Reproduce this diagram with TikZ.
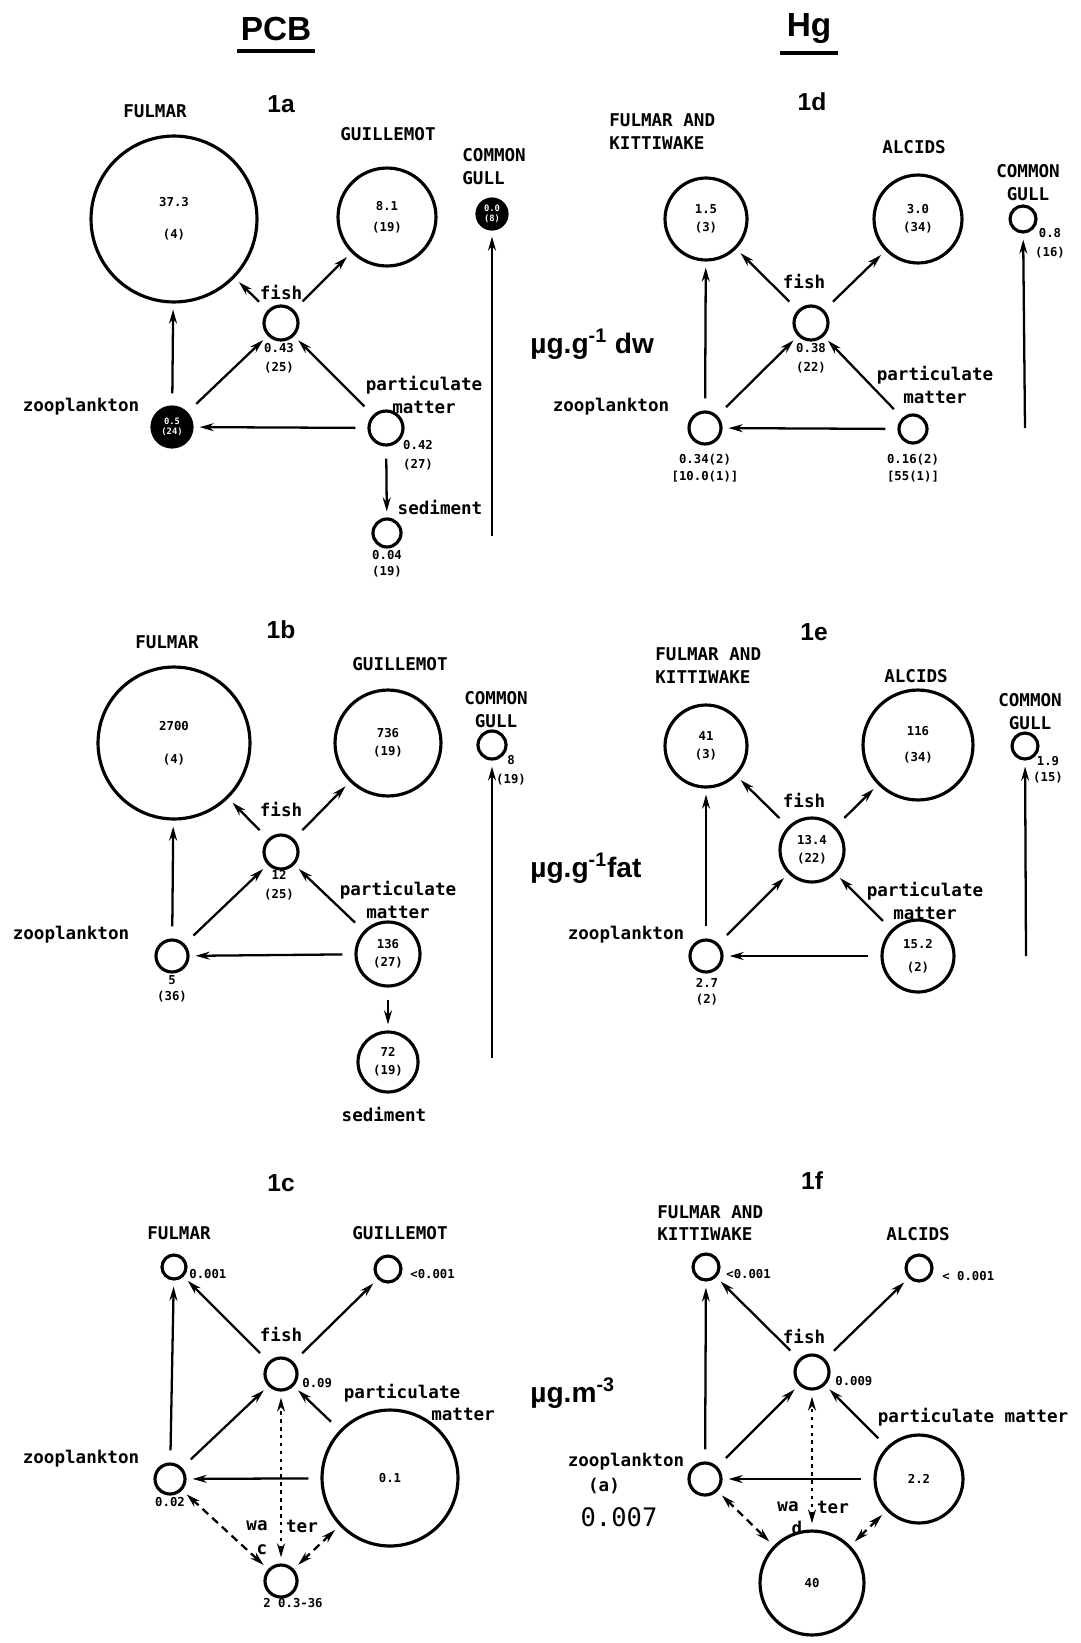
\documentclass[tikz,border=0pt]{standalone}
\usepackage{fontspec}
\setmainfont{Liberation Sans}
\setmonofont{DejaVu Sans Mono}
\usepackage{tikz}
\usetikzlibrary{
    arrows.meta,
    calc,
    positioning
}

\tikzset{
    pool/.style={circle, draw, line width=1.8pt, minimum size=#1*0.04cm, inner sep=0pt,
        align=center, font=\ttfamily\bfseries\fontsize{7}{10}\selectfont},
    darkpool/.style={pool=#1, fill=black, text=white, font=\ttfamily\bfseries\fontsize{5}{6}\selectfont},
    taxon/.style={inner sep=0pt, align=center, font=\ttfamily\bfseries\fontsize{10}{13}\selectfont},
    val/.style={inner sep=0pt, align=center, font=\ttfamily\bfseries\fontsize{7}{11}\selectfont},
    flow/.style={line width=1.3pt, -{Stealth[length=8pt, width=4.5pt]},
        shorten <=0.24cm, shorten >=0.12cm},
    swapdot/.style={line width=1.3pt, {Stealth[length=8pt, width=4.5pt]}-{Stealth[length=8pt, width=4.5pt]},
        dash pattern=on 2pt off 2.5pt, shorten <=0.12cm, shorten >=0.12cm},
    swapdash/.style={swapdot, dash pattern=on 4.5pt off 3pt},
    panel/.style={inner sep=0pt, font=\bfseries\fontsize{14}{16}\selectfont},
    heading/.style={inner sep=0pt, font=\bfseries\fontsize{19}{21}\selectfont},
    unit/.style={inner sep=0pt, anchor=west, font=\bfseries\fontsize{16}{18}\selectfont}
}

\begin{document}
\begin{tikzpicture}[x=0.02cm, y=-0.02cm]
    \fill[white] (0,0) rectangle (1081,1643);
    \useasboundingbox (0,0) rectangle (1081,1643);

    % column headings
    \node[heading] (pcb) at (276,29) {PCB};
    \node[heading] (hg) at (809,29) {Hg};
    \draw[line width=2.2pt] (237,51) -- (315,51);
    \draw[line width=2.2pt] (780,53) -- (838,53);

    % units
    \node[unit] (unitdw) at (530,344) {µg.g\textsuperscript{-1} dw};
    \node[unit] (unitfat) at (530,868) {µg.g\textsuperscript{-1}fat};
    \node[unit] (unitvol) at (530,1393) {µg.m\textsuperscript{-3}};

    % ---------- 1a ----------
    \node[panel] (pa) at (281,104) {1a};
    \node[taxon] at (155,111) {FULMAR};
    \node[taxon] at (388,134) {GUILLEMOT};
    \node[taxon, anchor=west, align=left] at (462,167) {COMMON\\GULL};
    \node[taxon] at (281,292) {fish};
    \node[taxon] at (81,407) {zooplankton};
    \node[taxon] at (424,395) {particulate\\matter};
    \node[taxon] at (440,507) {sediment};

    \node[pool=83] (fulA) at (174,219) {37.3\\[8pt](4)};
    \node[pool=49] (guiA) at (387,217) {8.1\\[2pt](19)};
    \node[darkpool=15] (gullA) at (492,214) {0.0\\(8)};
    \node[pool=17] (fishA) at (281,323) {};
    \node[darkpool=20] (zooA) at (172,427) {0.5\\(24)};
    \node[pool=17] (pmA) at (386,428) {};
    \node[pool=14] (sedA) at (387,533) {};
    \coordinate (gullbaseA) at (492,536);

    \node[val] at (279,358) {0.43\\(25)};
    \node[val] at (418,455) {0.42\\(27)};
    \node[val, font=\ttfamily\bfseries\fontsize{7}{9}\selectfont] at (387,564) {0.04\\(19)};

    \draw[flow] (fishA) -- (fulA);
    \draw[flow] (fishA) -- (guiA);
    \draw[flow] (zooA) -- (fulA);
    \draw[flow] (zooA) -- (fishA);
    \draw[flow] (pmA) -- (fishA);
    \draw[flow] (pmA) -- (zooA);
    \draw[flow] (pmA) -- (sedA);
    \draw[flow, shorten <=0pt] (gullbaseA) -- (gullA);

    % ---------- 1b ----------
    \node[panel] (pb) at (281,630) {1b};
    \node[taxon] at (167,642) {FULMAR};
    \node[taxon] at (400,664) {GUILLEMOT};
    \node[taxon] at (496,710) {COMMON\\GULL};
    \node[taxon] at (281,809) {fish};
    \node[taxon] at (71,935) {zooplankton};
    \node[taxon] at (398,900) {particulate\\matter};
    \node[taxon] at (384,1114) {sediment};

    \node[pool=76] (fulB) at (174,743) {2700\\[9pt](4)};
    \node[pool=53] (guiB) at (388,743) {736\\(19)};
    \node[pool=14] (gullB) at (492,745) {};
    \node[pool=17] (fishB) at (281,852) {};
    \node[pool=16] (zooB) at (172,956) {};
    \node[pool=32] (pmB) at (388,954) {136\\(27)};
    \node[pool=30] (sedB) at (388,1062) {72\\(19)};
    \coordinate (gullbaseB) at (492,1058);

    \node[val] at (511,770) {8\\(19)};
    \node[val] at (279,885) {12\\(25)};
    \node[val, font=\ttfamily\bfseries\fontsize{7}{9}\selectfont] at (172,989) {5\\(36)};

    \draw[flow] (fishB) -- (fulB);
    \draw[flow] (fishB) -- (guiB);
    \draw[flow] (zooB) -- (fulB);
    \draw[flow] (zooB) -- (fishB);
    \draw[flow] (pmB) -- (fishB);
    \draw[flow] (pmB) -- (zooB);
    \draw[flow] (pmB) -- (sedB);
    \draw[flow, shorten <=0pt] (gullbaseB) -- (gullB);

    % ---------- 1c ----------
    \node[panel] (pc) at (281,1183) {1c};
    \node[taxon] at (179,1233) {FULMAR};
    \node[taxon] at (400,1233) {GUILLEMOT};
    \node[taxon] at (281,1334) {fish};
    \node[taxon] at (81,1459) {zooplankton};
    \node[taxon] at (402,1393) {particulate};
    \node[taxon] at (463,1414) {matter};
    \node[taxon] at (257,1526) {wa};
    \node[taxon] at (302,1526) {ter};
    \node[taxon] at (262,1550) {c};

    \node[pool=12] (fulC) at (174,1267) {};
    \node[pool=13] (guiC) at (388,1269) {};
    \node[pool=16] (fishC) at (281,1374) {};
    \node[pool=15] (zooC) at (170,1479) {};
    \node[pool=68] (pmC) at (390,1478) {0.1};
    \node[pool=16] (watC) at (281,1581) {};

    \node[val, anchor=west] at (189,1274) {0.001};
    \node[val, anchor=west] at (410,1274) {<0.001};
    \node[val, anchor=west] at (302,1383) {0.09};
    \node[val] at (170,1502) {0.02};
    \node[val] at (293,1603) {2 0.3-36};

    \draw[flow] (fishC) -- (fulC);
    \draw[flow] (fishC) -- (guiC);
    \draw[flow] (zooC) -- (fulC);
    \draw[flow] (zooC) -- (fishC);
    \draw[flow] (pmC) -- (fishC);
    \draw[flow] (pmC) -- (zooC);
    \draw[swapdot] (watC) -- (fishC);
    \draw[swapdash] (zooC) -- (watC);
    \draw[swapdash] (pmC) -- (watC);

    % ---------- 1d ----------
    \node[panel] (pd) at (812,102) {1d};
    \node[taxon, anchor=west, align=left] at (609,132) {FULMAR AND\\KITTIWAKE};
    \node[taxon] at (914,147) {ALCIDS};
    \node[taxon] at (1028,183) {COMMON\\GULL};
    \node[taxon] at (804,281) {fish};
    \node[taxon] at (611,407) {zooplankton};
    \node[taxon] at (935,385) {particulate\\matter};

    \node[pool=41] (fkD) at (706,219) {1.5\\(3)};
    \node[pool=44] (alD) at (918,219) {3.0\\(34)};
    \node[pool=13] (gullD) at (1023,219) {};
    \node[pool=17] (fishD) at (811,323) {};
    \node[pool=16] (zooD) at (705,428) {};
    \node[pool=14] (pmD) at (913,429) {};
    \coordinate (gullbaseD) at (1025,428);

    \node[val] at (1050,243) {0.8\\(16)};
    \node[val] at (811,358) {0.38\\(22)};
    \node[val, font=\ttfamily\bfseries\fontsize{7}{9.5}\selectfont] at (705,468) {0.34(2)\\{[}10.0(1)]};
    \node[val, font=\ttfamily\bfseries\fontsize{7}{9.5}\selectfont] at (913,468) {0.16(2)\\{[}55(1)]};

    \draw[flow] (fishD) -- (fkD);
    \draw[flow] (fishD) -- (alD);
    \draw[flow] (zooD) -- (fkD);
    \draw[flow] (zooD) -- (fishD);
    \draw[flow] (pmD) -- (fishD);
    \draw[flow] (pmD) -- (zooD);
    \draw[flow, shorten <=0pt] (gullbaseD) -- (gullD);

    % ---------- 1e ----------
    \node[panel] (pe) at (814,632) {1e};
    \node[taxon, anchor=west, align=left] at (655,666) {FULMAR AND\\KITTIWAKE};
    \node[taxon] at (916,676) {ALCIDS};
    \node[taxon] at (1030,712) {COMMON\\GULL};
    \node[taxon] at (804,800) {fish};
    \node[taxon] at (626,935) {zooplankton};
    \node[taxon] at (925,901) {particulate\\matter};

    \node[pool=41] (fkE) at (706,746) {41\\(3)};
    \node[pool=55] (alE) at (918,745) {116\\[5pt](34)};
    \node[pool=13] (gullE) at (1025,746) {};
    \node[pool=32] (fishE) at (812,850) {13.4\\(22)};
    \node[pool=16] (zooE) at (706,956) {};
    \node[pool=36] (pmE) at (918,956) {15.2\\[3pt](2)};
    \coordinate (gullbaseE) at (1026,956);

    \node[val, font=\ttfamily\bfseries\fontsize{7}{9}\selectfont] at (1048,770) {1.9\\(15)};
    \node[val, font=\ttfamily\bfseries\fontsize{7}{9}\selectfont] at (707,992) {2.7\\(2)};

    \draw[flow] (fishE) -- (fkE);
    \draw[flow] (fishE) -- (alE);
    \draw[flow] (zooE) -- (fkE);
    \draw[flow] (zooE) -- (fishE);
    \draw[flow] (pmE) -- (fishE);
    \draw[flow] (pmE) -- (zooE);
    \draw[flow, shorten <=0pt] (gullbaseE) -- (gullE);

    % ---------- 1f ----------
    \node[panel] (pf) at (812,1181) {1f};
    \node[taxon, anchor=west, align=left] at (657,1223) {FULMAR AND\\KITTIWAKE};
    \node[taxon] at (918,1234) {ALCIDS};
    \node[taxon] at (804,1336) {fish};
    \node[taxon] at (973,1417) {particulate matter};
    \node[taxon] at (626,1462) {zooplankton};
    \node[taxon] at (604,1486) {(a)};
    \node[inner sep=0pt, font=\ttfamily\fontsize{14.5}{16}\selectfont] at (619,1517) {0.007};
    \node[taxon] at (788,1507) {wa};
    \node[taxon] at (833,1507) {ter};
    \node[taxon] at (797,1528) {d};

    \node[pool=13] (fkF) at (706,1267) {};
    \node[pool=13] (alF) at (919,1268) {};
    \node[pool=17] (fishF) at (812,1372) {};
    \node[pool=16] (zooF) at (705,1479) {};
    \node[pool=44] (pmF) at (919,1479) {2.2};
    \node[pool=52] (watF) at (812,1583) {40};

    \node[val, anchor=west] at (726,1274) {<0.001};
    \node[val, anchor=west] at (942,1276) {< 0.001};
    \node[val, anchor=west] at (835,1381) {0.009};

    \draw[flow] (fishF) -- (fkF);
    \draw[flow] (fishF) -- (alF);
    \draw[flow] (zooF) -- (fkF);
    \draw[flow] (zooF) -- (fishF);
    \draw[flow] (pmF) -- (fishF);
    \draw[flow] (pmF) -- (zooF);
    \draw[swapdot] (watF) -- (fishF);
    \draw[swapdash] (zooF) -- (watF);
    \draw[swapdash] (pmF) -- (watF);
\end{tikzpicture}
\end{document}
